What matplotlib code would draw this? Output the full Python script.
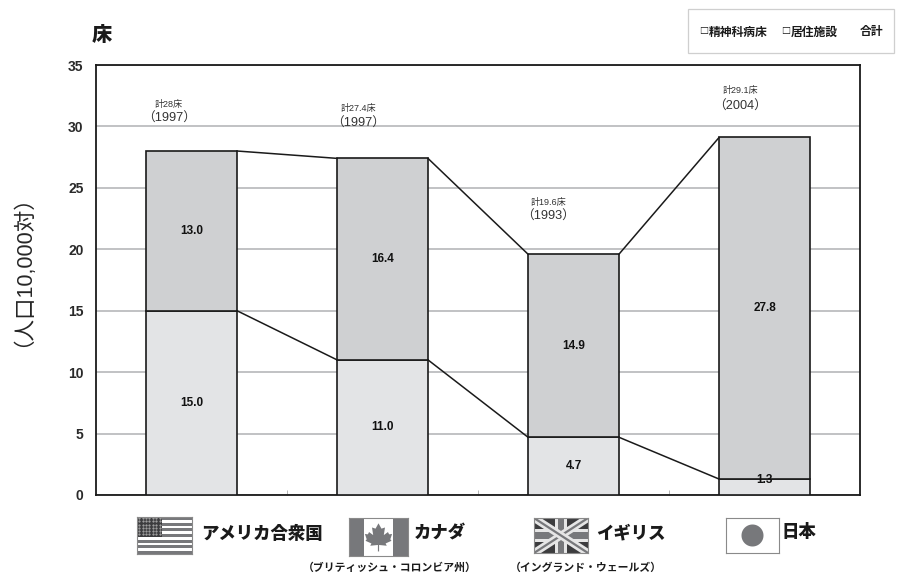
import matplotlib
matplotlib.use("Agg")
import matplotlib.pyplot as plt
from matplotlib.patches import Rectangle, Polygon
import numpy as np

plt.rcParams['font.family'] = ['Noto Sans CJK JP', 'DejaVu Sans']

countries = ['アメリカ合衆国', 'カナダ', 'イギリス', '日本']
subtitles = ['', '（ブリティッシュ・コロンビア州）', '（イングランド・ウェールズ）', '']
psych_beds = [15.0, 11.0, 4.7, 1.3]
residential = [13.0, 16.4, 14.9, 27.8]
totals = [28, 27.4, 19.6, 29.1]
total_labels = ['計28床', '計27.4床', '計19.6床', '計29.1床']
years = ['（1997）', '（1997）', '（1993）', '（2004）']
yticks = [0, 5, 10, 15, 20, 25, 30, 35]

W, H = 897, 586
fig = plt.figure(figsize=(W / 100, H / 100), dpi=100)
LAT = ['Liberation Sans', 'Noto Sans CJK JP']


def fx(px):
    return px / W


def fy(py):
    return 1 - py / H


ax = fig.add_axes([fx(96), fy(495), fx(860) - fx(96), fy(65) - fy(495)])
x = np.arange(len(countries))
bw = 0.476
ax.set_xlim(-0.5, 3.5)
ax.set_ylim(0, 35)
ax.yaxis.grid(True, color='#b0b2b4', lw=1.1)
ax.set_axisbelow(True)

ax.bar(x, psych_beds, bw, color='#e3e4e6', edgecolor='#1a1a1a', lw=1.2, zorder=3)
ax.bar(x, residential, bw, bottom=psych_beds, color='#cfd0d2', edgecolor='#1a1a1a', lw=1.2, zorder=3)

for i in range(len(x) - 1):
    ax.plot([x[i] + bw / 2, x[i + 1] - bw / 2], [psych_beds[i], psych_beds[i + 1]],
            color='#1a1a1a', lw=1.1, zorder=3)
    ax.plot([x[i] + bw / 2, x[i + 1] - bw / 2], [totals[i], totals[i + 1]],
            color='#1a1a1a', lw=1.1, zorder=3)

for i in x:
    yb = psych_beds[i] / 2 if psych_beds[i] > 2 else psych_beds[i] - 0.05
    ax.text(i, yb, f'{psych_beds[i]:.1f}', ha='center', va='center',
            fontsize=8.5, fontweight='bold', color='#111111', zorder=4, family=LAT)
    ax.text(i, psych_beds[i] + residential[i] / 2, f'{residential[i]:.1f}', ha='center',
            va='center', fontsize=8.5, fontweight='bold', color='#111111', zorder=4, family=LAT)

for s in ax.spines.values():
    s.set_linewidth(1.3)
    s.set_color('#1a1a1a')
ax.set_xticks(x[:-1] + 0.5)
ax.set_xticklabels([])
ax.tick_params(axis='x', direction='in', length=3.5, width=0.6, color='#a8a8a8')
ax.set_yticks(yticks)
ax.tick_params(axis='y', length=0, pad=9)
for t in ax.get_yticklabels():
    t.set_family(LAT)
    t.set_fontsize(10)
    t.set_fontweight('bold')
    t.set_color('#2a2a2a')

# Annotations above the bars
ann_x = [169, 358, 548, 740]
ann_y1 = [104, 109, 202, 91]
ann_y2 = [119, 124, 217, 107]
for i in x:
    fig.text(fx(ann_x[i]), fy(ann_y1[i]), total_labels[i], ha='center', va='center',
             fontsize=6.5, color='#333333', family=LAT)
    fig.text(fx(ann_x[i]), fy(ann_y2[i]), years[i], ha='center', va='center',
             fontsize=9.2, color='#333333', family=LAT)

# Title, y label
fig.text(fx(102), fy(35), '床', ha='center', va='center', fontsize=14.5, fontweight='heavy', color='#1a1a1a')
fig.text(fx(12), fy(260), '（人口10,000対）', rotation=90, ha='center', va='center',
         fontsize=15.5, color='#262626', family=LAT)

# Legend box
fig.add_artist(Rectangle((fx(688), fy(53)), fx(206), fy(9) - fy(53), transform=fig.transFigure,
                         fc='white', ec='#cfcfcf', lw=0.9))
for px, txt in [(709, '精神科病床'), (791, '居住施設'), (860, '合計')]:
    fig.text(fx(px), fy(32), txt, ha='left', va='center', fontsize=8.5, fontweight='bold',
             color='#1a1a1a')
for px in [704, 786]:
    fig.text(fx(px), fy(32), '□', ha='center', va='center', fontsize=6.5, fontweight='heavy',
             color='#1a1a1a')


# Flags
def flag_axes(x0, y0, x1, y1):
    a = fig.add_axes([fx(x0), fy(y1), fx(x1) - fx(x0), fy(y0) - fy(y1)])
    a.set_xlim(0, 1)
    a.set_ylim(0, 1)
    a.set_xticks([])
    a.set_yticks([])
    for s in a.spines.values():
        s.set_linewidth(0.8)
        s.set_color('#8a8a8a')
    return a


# USA
a = flag_axes(137, 517, 192, 554)
for k in range(13):
    if k % 2 == 0:
        a.add_patch(Rectangle((0, k / 13), 1, 1 / 13, fc='#77787b', ec='none'))
a.add_patch(Rectangle((0, 6 / 13), 0.45, 7 / 13, fc='#3c3c3e', ec='none'))
gx, gy = np.meshgrid(np.linspace(0.04, 0.41, 7), np.linspace(0.53, 0.97, 6))
a.plot(gx.ravel(), gy.ravel(), ls='none', marker='.', ms=1.0, color='#b5b5b5')

# Canada
a = flag_axes(349, 518, 408, 556)
a.add_patch(Rectangle((0, 0), 0.25, 1, fc='#77787b', ec='none'))
a.add_patch(Rectangle((0.75, 0), 0.25, 1, fc='#77787b', ec='none'))
a.add_patch(Polygon([(0.5, 0.86), (0.55, 0.72), (0.61, 0.75), (0.59, 0.55), (0.66, 0.63),
                     (0.68, 0.57), (0.73, 0.58), (0.70, 0.44), (0.72, 0.40), (0.62, 0.33),
                     (0.64, 0.27), (0.51, 0.29), (0.51, 0.12), (0.49, 0.12),
                     (0.49, 0.29), (0.36, 0.27), (0.38, 0.33), (0.28, 0.40), (0.30, 0.44),
                     (0.27, 0.58), (0.32, 0.57), (0.34, 0.63), (0.41, 0.55),
                     (0.39, 0.75), (0.45, 0.72)], fc='#77787b', ec='none'))

# UK
a = flag_axes(534, 518, 588, 553)
a.set_facecolor('#3c3c3e')
for pts in [[(0, 0), (1, 1)], [(0, 1), (1, 0)]]:
    a.plot(*zip(*pts), color='#e6e6e6', lw=5.5, solid_capstyle='butt')
    a.plot(*zip(*pts), color='#77787b', lw=1.6, solid_capstyle='butt')
a.add_patch(Rectangle((0.39, 0), 0.22, 1, fc='#e6e6e6', ec='none'))
a.add_patch(Rectangle((0, 0.32), 1, 0.36, fc='#e6e6e6', ec='none'))
a.add_patch(Rectangle((0.45, 0), 0.10, 1, fc='#77787b', ec='none'))
a.add_patch(Rectangle((0, 0.4), 1, 0.2, fc='#77787b', ec='none'))

# Japan
a = flag_axes(726, 518, 779, 553)
a.add_patch(Polygon(np.column_stack([
    0.5 + (11 / 53) * np.cos(np.linspace(0, 2 * np.pi, 80)),
    0.5 + (11 / 35) * np.sin(np.linspace(0, 2 * np.pi, 80))]), fc='#77787b', ec='none'))

# Country names
name_x = [201, 414, 596, 781]
name_y = [534, 534, 533, 532]
for i in x:
    fig.text(fx(name_x[i]), fy(name_y[i]), countries[i], ha='left', va='center',
             fontsize=12.5, fontweight='heavy', color='#1a1a1a')
sub_x = [0, 390, 586, 0]
for i in x:
    if subtitles[i]:
        fig.text(fx(sub_x[i]), fy(568), subtitles[i], ha='center', va='center',
                 fontsize=7.8, fontweight='bold', color='#1a1a1a')

fig.savefig('out.png', dpi=100)
